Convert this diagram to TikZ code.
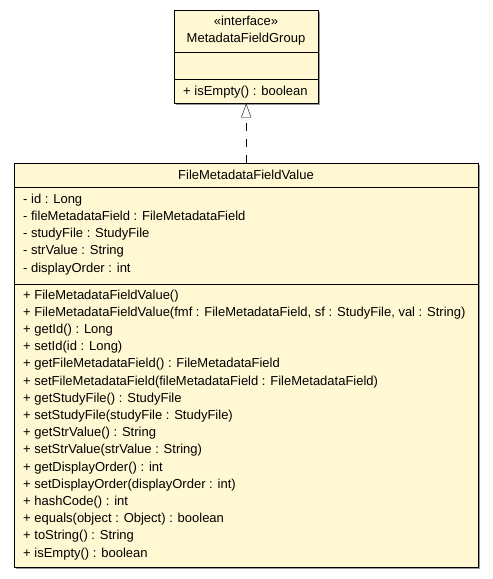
\documentclass[tikz,border=0pt]{standalone}
\usepackage{fontspec}
\setmainfont{Liberation Sans}
\usetikzlibrary{positioning,arrows.meta}
\definecolor{classfill}{HTML}{FFF8D2}

\begin{document}
\begin{tikzpicture}[x=1pt,y=-1pt,
    classbox/.style={draw=black,fill=classfill,inner sep=0pt,anchor=north west},
    member/.style={anchor=base west,inner sep=0pt,font=\fontsize{13}{15}\selectfont},
    title/.style={inner sep=0pt,font=\fontsize{13}{15}\selectfont}]
  \useasboundingbox (0,0) rectangle (493,579);
  % shadows
  \fill[gray!80] (176,12) rectangle (320,105);
  \fill[gray!80] (16,165) rectangle (480,569);
  % interface
  \node[classbox,minimum width=144pt,minimum height=93pt](iface) at (174,10){};
  \draw (174,52) -- (318,52);
  \draw (174,79) -- (318,79);
  \node[title](stereo) at (246,21){«interface»};
  \node[title](ifacename) at (246,39){MetadataFieldGroup};
  \node[member](isempty1) at (183,95){+ isEmpty() : boolean};
  % class
  \node[classbox,minimum width=464pt,minimum height=404pt](fmfv) at (14,163){};
  \draw (14,187) -- (478,187);
  \draw (14,284) -- (478,284);
  \node[title](fmfvname) at (246,175){FileMetadataFieldValue};
  \node[member](id) at (23,203){- id : Long};
  \node[member](fmf) at (23,220.25){- fileMetadataField : FileMetadataField};
  \node[member](sf) at (23,237.5){- studyFile : StudyFile};
  \node[member](strval) at (23,254.75){- strValue : String};
  \node[member](order) at (23,272){- displayOrder : int};
  \node[member](ctor1) at (23,299){+ FileMetadataFieldValue()};
  \node[member](ctor2) at (23,316.2){+ FileMetadataFieldValue(fmf : FileMetadataField, sf : StudyFile, val : String)};
  \node[member](getid) at (23,333.4){+ getId() : Long};
  \node[member](setid) at (23,350.6){+ setId(id : Long)};
  \node[member](getfmf) at (23,367.8){+ getFileMetadataField() : FileMetadataField};
  \node[member](setfmf) at (23,385){+ setFileMetadataField(fileMetadataField : FileMetadataField)};
  \node[member](getsf) at (23,402.2){+ getStudyFile() : StudyFile};
  \node[member](setsf) at (23,419.4){+ setStudyFile(studyFile : StudyFile)};
  \node[member](getstr) at (23,436.6){+ getStrValue() : String};
  \node[member](setstr) at (23,453.8){+ setStrValue(strValue : String)};
  \node[member](getorder) at (23,471){+ getDisplayOrder() : int};
  \node[member](setorder) at (23,488.2){+ setDisplayOrder(displayOrder : int)};
  \node[member](hash) at (23,505.4){+ hashCode() : int};
  \node[member](equals) at (23,522.6){+ equals(object : Object) : boolean};
  \node[member](tostr) at (23,539.8){+ toString() : String};
  \node[member](isempty2) at (23,557){+ isEmpty() : boolean};
  % realization
  \draw[dash pattern=on 8pt off 8pt,-{Triangle[open,length=14pt,width=10pt,fill=white]}] (fmfv.north) -- (iface.south);
\end{tikzpicture}
\end{document}
